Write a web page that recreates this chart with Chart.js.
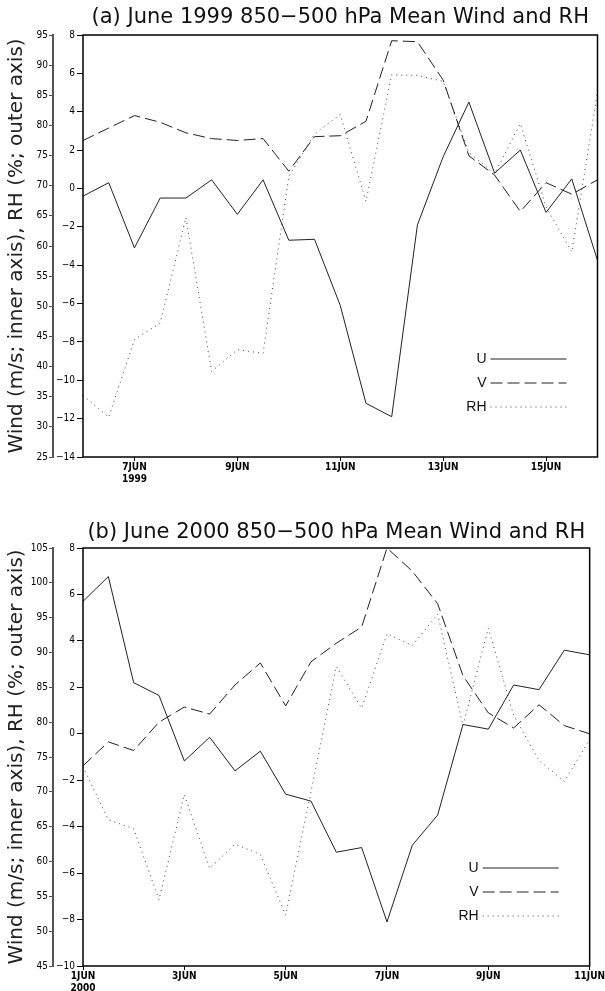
<!DOCTYPE html>
<html>
<head>
<meta charset="utf-8">
<script src="https://cdn.jsdelivr.net/npm/chart.js@4.4.1/dist/chart.umd.min.js"></script>
<style>
  body { margin: 0; background: #fff; width: 605px; height: 991px; position: relative; overflow: hidden; }
  .panel { position: absolute; left: 0; width: 605px; }
  #pa { top: 0; height: 490px; }
  #pb { top: 490px; height: 501px; }
</style>
</head>
<body>
<div class="panel" id="pa"><canvas id="chart-a"></canvas></div>
<div class="panel" id="pb"><canvas id="chart-b"></canvas></div>
<script>
// time axis: day of month, 12-hourly
const daysA = [6, 6.5, 7, 7.5, 8, 8.5, 9, 9.5, 10, 10.5, 11, 11.5, 12, 12.5, 13, 13.5, 14, 14.5, 15, 15.5, 16];
const daysB = [1, 1.5, 2, 2.5, 3, 3.5, 4, 4.5, 5, 5.5, 6, 6.5, 7, 7.5, 8, 8.5, 9, 9.5, 10, 10.5, 11];

// (a) June 1999
const uA  = [-0.4, 0.3, -3.1, -0.5, -0.5, 0.45, -1.35, 0.45, -2.7, -2.65, -6.1, -11.2, -11.9, -1.9, 1.65, 4.5, 0.8, 2.0, -1.25, 0.5, -3.75];
const vA  = [2.5, 3.15, 3.8, 3.45, 2.9, 2.6, 2.5, 2.6, 0.9, 2.7, 2.75, 3.5, 7.7, 7.65, 5.65, 1.7, 0.7, -1.2, 0.3, -0.3, 0.45];
const rhA = [35.2, 31.6, 44.5, 47.2, 64.7, 39.2, 42.8, 42.2, 71.5, 78.6, 81.8, 67.4, 88.4, 88.3, 87.3, 75.5, 72.0, 80.3, 66.5, 59.0, 85.5];

// (b) June 2000
const uB  = [5.7, 6.77, 2.2, 1.65, -1.17, -0.15, -1.6, -0.75, -2.6, -2.9, -5.1, -4.9, -8.1, -4.8, -3.5, 0.4, 0.2, 2.1, 1.9, 3.6, 3.4];
const vB  = [-1.38, -0.35, -0.72, 0.5, 1.15, 0.85, 2.1, 3.05, 1.2, 3.1, 3.9, 4.6, 8.0, 7.0, 5.6, 2.5, 0.9, 0.25, 1.25, 0.35, 0.0];
const rhB = [73.6, 66.0, 64.7, 54.5, 69.6, 59.0, 62.5, 61.0, 52.3, 70.0, 88.0, 82.0, 92.7, 91.0, 95.5, 79.5, 93.5, 81.0, 74.5, 71.5, 77.5];

// tick labels
const ticksA = [7, 9, 11, 13, 15];
const tickLabelsA = [['7JUN', '1999'], '9JUN', '11JUN', '13JUN', '15JUN'];
const ticksB = [1, 3, 5, 7, 9, 11];
const tickLabelsB = [['1JUN', '2000'], '3JUN', '5JUN', '7JUN', '9JUN', '11JUN'];

const TICK_FONT = { family: '"DejaVu Sans Condensed", "Liberation Sans Narrow", sans-serif', size: 10 };
const Y_TITLE = 'Wind (m/s; inner axis), RH (%; outer axis)';
const minus = v => v < 0 ? '\u2212' + Math.abs(v) : String(v);

const framePlugin = {
  id: 'frame',
  afterDatasetsDraw(chart, args, opts) {
    const { ctx, chartArea: a } = chart;
    ctx.save();
    ctx.strokeStyle = '#000';
    ctx.lineWidth = 1.5;
    ctx.strokeRect(a.left, a.top, a.right - a.left, a.bottom - a.top);

    // title over the plot box
    ctx.fillStyle = '#111';
    ctx.font = '21px "DejaVu Sans", sans-serif';
    ctx.textAlign = 'center';
    ctx.textBaseline = 'middle';
    ctx.fillText(opts.title, (a.left + a.right) / 2, a.top - opts.titleGap);

    // legend inside lower right
    ctx.font = '14px "Liberation Sans", sans-serif';
    ctx.textAlign = 'right';
    chart.data.datasets.forEach((ds, i) => {
      const y = a.bottom - 98 + i * 24;
      const x0 = a.right - 107, x1 = a.right - 31;
      ctx.fillStyle = '#111';
      ctx.fillText(ds.label, x0 - 4, y);
      ctx.strokeStyle = ds.borderColor;
      ctx.lineWidth = 1;
      ctx.setLineDash(ds.borderDash || []);
      ctx.beginPath();
      ctx.moveTo(x0, y);
      ctx.lineTo(x1, y);
      ctx.stroke();
    });
    ctx.setLineDash([]);
    ctx.restore();
  }
};

function makeChart(id, cfg) {
  const pts = (days, vals) => vals.map((v, i) => ({ x: days[i], y: v }));
  return new Chart(document.getElementById(id), {
    type: 'line',
    data: {
      datasets: [
        { label: 'U', data: pts(cfg.days, cfg.u), yAxisID: 'yIn', borderColor: '#222', borderWidth: 1, pointRadius: 0 },
        { label: 'V', data: pts(cfg.days, cfg.v), yAxisID: 'yIn', borderColor: '#222', borderWidth: 1, borderDash: [12, 5], pointRadius: 0 },
        { label: 'RH', data: pts(cfg.days, cfg.rh), yAxisID: 'yOut', borderColor: '#444', borderWidth: 1, borderDash: [1, 4], pointRadius: 0 },
      ]
    },
    options: {
      responsive: true, maintainAspectRatio: false, animation: false,
      layout: { padding: { top: cfg.padTop, right: cfg.padRight, left: 0, bottom: 0 } },
      plugins: {
        legend: { display: false },
        tooltip: { enabled: false },
        frame: { title: cfg.title, titleGap: cfg.titleGap }
      },
      scales: {
        x: {
          type: 'linear', min: cfg.xMin, max: cfg.xMax,
          afterBuildTicks: s => { s.ticks = cfg.ticks.map(v => ({ value: v })); },
          afterFit: s => { s.height = cfg.xHeight; },
          grid: { drawOnChartArea: false, tickLength: 4, color: '#000' },
          border: { display: false },
          ticks: {
            padding: 0, maxRotation: 0, autoSkip: false, color: '#000',
            font: { ...TICK_FONT, weight: 'bold' },
            callback: v => cfg.tickLabels[cfg.ticks.indexOf(v)]
          }
        },
        yIn: {
          position: 'left', weight: 0, min: cfg.inMin, max: 8,
          afterFit: s => { s.width = 30; },
          grid: { drawOnChartArea: false, tickLength: 6, color: '#000' },
          border: { display: false },
          ticks: { stepSize: 2, padding: 2, color: '#000', font: TICK_FONT, callback: minus }
        },
        yOut: {
          position: 'left', weight: 10, min: cfg.outMin, max: cfg.outMax,
          afterFit: s => { s.width = 53; },
          grid: { drawOnChartArea: false, tickLength: 4, color: '#555' },
          border: { display: true, color: '#555', width: 2 },
          title: { display: true, text: Y_TITLE, color: '#222', padding: { top: 5, bottom: 0 }, font: { family: '"DejaVu Sans", sans-serif', size: 20 } },
          ticks: { stepSize: 5, padding: 1, color: '#000', font: TICK_FONT }
        }
      }
    },
    plugins: [framePlugin]
  });
}

makeChart('chart-a', {
  title: '(a) June 1999 850\u2212500 hPa Mean Wind and RH',
  days: daysA, u: uA, v: vA, rh: rhA,
  xMin: 6, xMax: 16, ticks: ticksA, tickLabels: tickLabelsA,
  inMin: -14, outMin: 25, outMax: 95,
  padTop: 35, padRight: 7.5, xHeight: 33, titleGap: 17
});

makeChart('chart-b', {
  title: '(b) June 2000 850\u2212500 hPa Mean Wind and RH',
  days: daysB, u: uB, v: vB, rh: rhB,
  xMin: 1, xMax: 11, ticks: ticksB, tickLabels: tickLabelsB,
  inMin: -10, outMin: 45, outMax: 105,
  padTop: 58, padRight: 12, xHeight: 25, titleGap: 15
});
</script>
</body>
</html>
